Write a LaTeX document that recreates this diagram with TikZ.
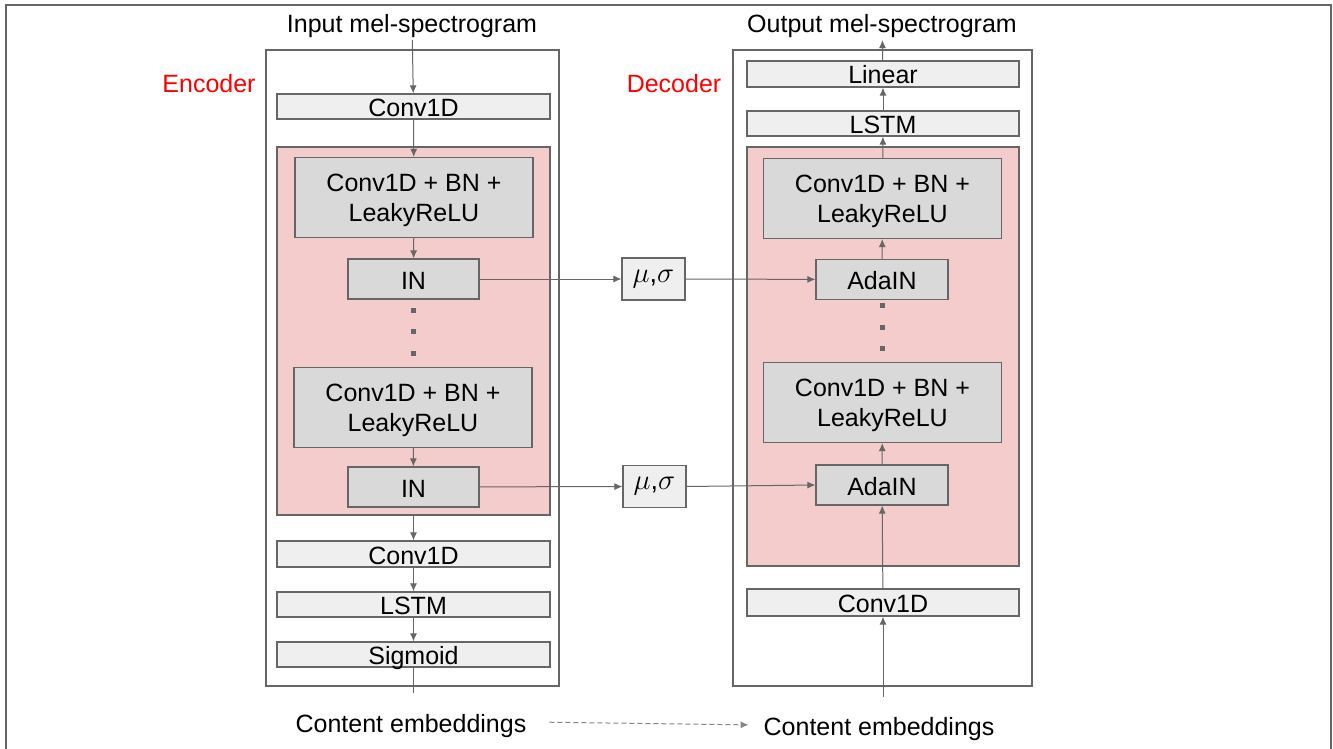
\documentclass[tikz,border=0pt]{standalone}
\usepackage{fontspec}
\setmainfont{Liberation Sans}
\usepackage{xcolor}
\usepackage{tikz}
\usetikzlibrary{arrows.meta}
\definecolor{boxLine}{HTML}{666666}
\definecolor{boxLight}{HTML}{EFEFEF}
\definecolor{boxDark}{HTML}{D9D9D9}
\definecolor{blockPink}{HTML}{F4CCCC}
\definecolor{labelRed}{HTML}{FF0000}

\tikzset{
    frame/.style={draw=boxLine, line width=0.6pt, inner sep=0pt},
    block/.style={draw=boxLine, line width=0.6pt, fill=blockPink, inner sep=0pt},
    oneline/.style={text height=10pt, text depth=0pt},
    layer/.style={oneline, draw=boxLine, line width=0.6pt, fill=boxLight, inner sep=0pt, minimum height=12.5pt},
    convbn/.style={draw=boxLine, line width=0.6pt, fill=boxDark, inner sep=0pt, align=center,
        text depth=0pt, minimum width=119pt, minimum height=40pt},
    norm/.style={oneline, draw=boxLine, line width=0.6pt, fill=boxDark, inner sep=0pt,
        minimum width=65.5pt, minimum height=20pt},
    stats/.style={draw=boxLine, line width=0.6pt, fill=boxLight, inner sep=0pt,
        minimum width=31.5pt, minimum height=21pt, font=\fontsize{13.5}{15}\selectfont},
    arr/.style={draw=boxLine, line width=0.5pt, -{Latex[length=4pt,width=3.5pt]}},
    dot/.style={fill=boxLine, inner sep=0pt, minimum size=2.5pt}
}

\begin{document}
\begin{tikzpicture}[x=0.5pt, y=-0.5pt, font=\fontsize{12.5}{15}\selectfont]
    \useasboundingbox (0, 0) rectangle (1333, 749);
    % outer frame, open at the bottom
    \draw[boxLine, line width=1pt] (6, 749) -- (6, 5) -- (1331, 5) -- (1331, 749);

    % encoder
    \node[frame, minimum width=146.5pt, minimum height=318pt] (encFrame) at (412.5, 368) {};
    \node[oneline] (inLabel) at (412, 23) {Input mel-spectrogram};
    \node[oneline, text=labelRed] (encLabel) at (209, 83) {Encoder};
    \node[layer, minimum width=136.5pt] (encConvA) at (413.5, 106.5) {Conv1D};
    \node[block, minimum width=136.5pt, minimum height=184pt] (encBlock) at (413.5, 331) {};
    \node[convbn] (encCbnA) at (414, 197.5) {Conv1D + BN +\\LeakyReLU};
    \node[norm] (encInA) at (413.5, 279) {IN};
    \foreach \y in {310, 331, 353}
        \node[dot] at (413.5, \y) {};
    \node[convbn] (encCbnB) at (413, 407.5) {Conv1D + BN +\\LeakyReLU};
    \node[norm] (encInB) at (413.5, 487) {IN};
    \node[layer, minimum width=136.5pt, minimum height=13pt] (encConvB) at (413.5, 554) {Conv1D};
    \node[layer, minimum width=136.5pt] (encLstm) at (413.5, 604.5) {LSTM};
    \node[layer, minimum width=136.5pt] (encSig) at (413.5, 654.5) {Sigmoid};
    \coordinate (encOut) at (413.5, 693);
    \node[oneline] (contLeft) at (411, 722) {Content embeddings};

    % decoder
    \node[frame, minimum width=149.5pt, minimum height=318pt] (decFrame) at (882.5, 368) {};
    \node[oneline] (outLabel) at (882, 23) {Output mel-spectrogram};
    \node[oneline, text=labelRed] (decLabel) at (674, 83) {Decoder};
    \node[layer, minimum width=136pt, minimum height=13pt] (decLinear) at (883, 74) {Linear};
    \node[layer, minimum width=136pt] (decLstm) at (883, 123.5) {LSTM};
    \node[block, minimum width=136pt, minimum height=209.5pt] (decBlock) at (883, 356.5) {};
    \node[convbn] (decCbnA) at (882.5, 198.5) {Conv1D + BN +\\LeakyReLU};
    \node[norm, minimum width=66pt] (decAdaA) at (882, 279.5) {AdaIN};
    \foreach \y in {305, 327, 348}
        \node[dot] at (882, \y) {};
    \node[convbn] (decCbnB) at (882.5, 402.5) {Conv1D + BN +\\LeakyReLU};
    \node[norm, minimum width=66pt] (decAdaB) at (882, 485) {AdaIN};
    \node[layer, minimum width=136pt, minimum height=13.5pt] (decConv) at (883, 602.5) {Conv1D};
    \coordinate (decIn) at (883, 697);
    \node[oneline] (contRight) at (879, 725) {Content embeddings};

    % statistics passed from IN to AdaIN
    \node[stats] (statsA) at (653.5, 279) {$\mu$,$\sigma$};
    \node[stats] (statsB) at (654.5, 486.5) {$\mu$,$\sigma$};

    % encoder flow
    \draw[arr] (inLabel) -- (encConvA);
    \draw[arr] (encConvA) -- (encCbnA);
    \draw[arr] (encCbnA) -- (encInA);
    \draw[arr] (encCbnB) -- (encInB);
    \draw[arr] (encBlock.south) -- (encConvB);
    \draw[arr] (encConvB) -- (encLstm);
    \draw[arr] (encLstm) -- (encSig);
    \draw[boxLine, line width=0.5pt] (encSig) -- (encOut);

    % IN -> mu,sigma -> AdaIN
    \draw[arr] (encInA) -- (statsA);
    \draw[arr] (statsA) -- (decAdaA);
    \draw[arr] (encInB) -- (statsB);
    \draw[arr] (statsB.east) -- (decAdaB.west);

    % decoder flow
    \draw[arr] (decIn) -- (decConv.south);
    \draw[arr] (decConv) -- (decAdaB);
    \draw[arr] (decAdaB) -- (decCbnB);
    \draw[arr] (decAdaA) -- (decCbnA);
    \draw[arr] (decCbnA) -- (decLstm);
    \draw[arr] (decLstm) -- (decLinear);
    \draw[arr] (decLinear) -- (outLabel);

    % content embeddings
    \draw[arr, boxLine!80, dash pattern=on 2.5pt off 1.5pt, shorten <=8pt, shorten >=4pt]
        (contLeft.east) -- (contRight.west);
\end{tikzpicture}
\end{document}
